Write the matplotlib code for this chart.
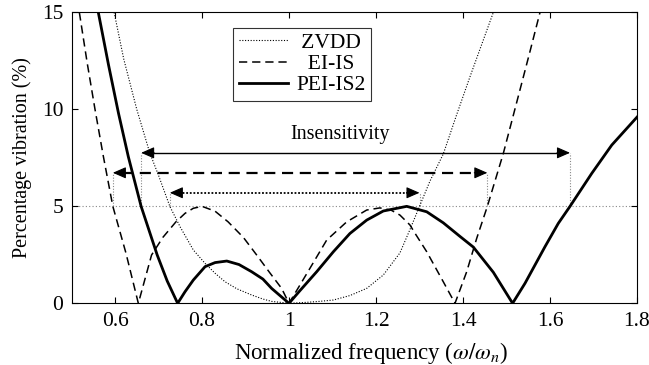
import matplotlib
matplotlib.use('Agg')
import matplotlib.pyplot as plt

plt.rcParams['font.family'] = ['Liberation Serif', 'DejaVu Serif']
plt.rcParams['mathtext.fontset'] = 'stix'
plt.rcParams['font.size'] = 15.5

zvdd_w = [0.598, 0.62, 0.650, 0.68, 0.70, 0.726, 0.75, 0.78, 0.807, 0.83, 0.853, 0.88,
          0.914, 0.94, 0.96, 1.0, 1.04, 1.07, 1.102, 1.14, 1.1786, 1.2168, 1.255, 1.278,
          1.30, 1.324, 1.3547, 1.385, 1.416, 1.443, 1.4697]
zvdd_v = [15.0, 12.6, 10.0, 7.75, 6.6, 5.0, 3.93, 2.75, 2.06, 1.55, 1.11, 0.75,
          0.43, 0.22, 0.1, 0.0, 0.05, 0.1, 0.17, 0.4, 0.77, 1.46, 2.6, 3.8,
          5.0, 6.3, 7.7, 9.7, 11.68, 13.35, 15.0]

eiis_w = [0.518, 0.536, 0.554, 0.573, 0.595, 0.625, 0.6536, 0.684, 0.71, 0.740, 0.761,
          0.78, 0.80, 0.83, 0.860, 0.895, 0.9257, 0.955, 0.983, 1.0, 1.048, 1.0866,
          1.1326, 1.1786, 1.209, 1.235, 1.255, 1.278, 1.29, 1.3166, 1.3547, 1.3816,
          1.4085, 1.4315, 1.456, 1.4927, 1.5288, 1.553, 1.577]
eiis_v = [15.0, 12.4, 10.0, 7.6, 5.0, 2.6, 0.0, 2.49, 3.4, 4.2, 4.64,
          4.9, 5.0, 4.75, 4.2, 3.4, 2.49, 1.6, 0.77, 0.0, 1.8, 3.26,
          4.2, 4.81, 4.92, 4.8, 4.55, 4.04, 3.6, 2.66, 1.11, 0.0,
          1.63, 3.35, 5.0, 7.73, 10.82, 12.9, 15.0]

pei_w = [0.5616, 0.585, 0.608, 0.6306, 0.66, 0.697, 0.72, 0.744, 0.761, 0.78,
         0.807, 0.83, 0.857, 0.885, 0.914, 0.94, 0.96, 1.0, 1.025, 1.0637, 1.102,
         1.14, 1.1786, 1.2168, 1.2706, 1.3166, 1.3547, 1.393, 1.4237, 1.4697, 1.514,
         1.5425, 1.5885, 1.619, 1.646, 1.696, 1.742, 1.80]
pei_v = [15.0, 12.3, 9.8, 7.56, 5.0, 2.49, 1.15, 0.0, 0.6, 1.2,
         1.89, 2.1, 2.18, 2.0, 1.63, 1.25, 0.77, 0.0, 0.65, 1.63, 2.66,
         3.6, 4.29, 4.76, 5.0, 4.72, 4.15, 3.45, 2.9, 1.6, 0.0,
         1.03, 2.92, 4.12, 5.0, 6.7, 8.16, 9.6]

# insensitivity ranges at the 5 % level (left, right, height of arrow)
ins_zvdd = (0.726, 1.300, 5.7)
ins_eiis = (0.595, 1.456, 6.73)
ins_pei = (0.660, 1.646, 7.76)
v_limit = 5

fig = plt.figure(figsize=(6.49, 3.65), dpi=100)
ax = fig.add_axes([0.1102, 0.169, 0.8713, 0.797])

# leading spaces centre the shorter names in the legend box
ax.plot(zvdd_w, zvdd_v, color='black', lw=0.8, ls=(0, (1, 1.5)), label='\u2009ZVDD')
ax.plot(eiis_w, eiis_v, color='black', lw=1.1, ls=(0, (5.4, 3.2)), label='  EI-IS')
ax.plot(pei_w, pei_v, color='black', lw=2.0, label='PEI-IS2')

ax.axhline(v_limit, color='#888888', lw=0.8, ls=(0, (1, 2)), zorder=1)

arrows = [(ins_zvdd, (0, (1, 1)), 1.3),
          (ins_eiis, (0, (5, 3)), 1.6),
          (ins_pei, '-', 1.0)]
for (w0, w1, h), style, lw in arrows:
    ax.plot([w0, w0], [v_limit, h], color='#888888', lw=0.8, ls=(0, (1, 1.5)), zorder=1)
    ax.plot([w1, w1], [v_limit, h], color='#888888', lw=0.8, ls=(0, (1, 1.5)), zorder=1)
    ax.plot([w0 + 0.02, w1 - 0.02], [h, h], color='black', lw=lw, ls=style)
    for tip, back in ((w0, w0 + 0.03), (w1, w1 - 0.03)):
        ax.annotate('', xy=(tip, h), xytext=(back, h),
                    arrowprops=dict(arrowstyle='-|>,head_length=0.8,head_width=0.35',
                                    color='black', lw=0.8, shrinkA=0, shrinkB=0,
                                    mutation_scale=10))

ax.text(1.117, 8.7, 'Insensitivity', ha='center', va='center', fontsize=14.5)

ax.set_xlim(0.5, 1.8)
ax.set_ylim(0, 15)
ax.set_xticks([0.6, 0.8, 1.0, 1.2, 1.4, 1.6, 1.8])
ax.set_xticklabels(['0.6', '0.8', '1', '1.2', '1.4', '1.6', '1.8'])
ax.set_yticks([0, 5, 10, 15])
ax.tick_params(direction='in', top=True, right=True, length=4, width=0.8, labelsize=15.5, pad=6)
for s in ax.spines.values():
    s.set_linewidth(0.8)

ax.set_xlabel(r'Normalized frequency ($\omega/\omega_n$)', fontsize=16.5)
ax.xaxis.set_label_coords(0.53, -0.125)
ax.set_ylabel('Percentage vibration (%)', fontsize=14.5, labelpad=7)

leg = ax.legend(loc='upper left', bbox_to_anchor=(0.286, 0.948), fontsize=15.5,
                frameon=True, fancybox=False, edgecolor='black', handlelength=2.3,
                borderpad=0.25, labelspacing=0.05, handletextpad=0.4, borderaxespad=0)
leg.get_frame().set_linewidth(0.8)

fig.savefig('out.png', dpi=100)
